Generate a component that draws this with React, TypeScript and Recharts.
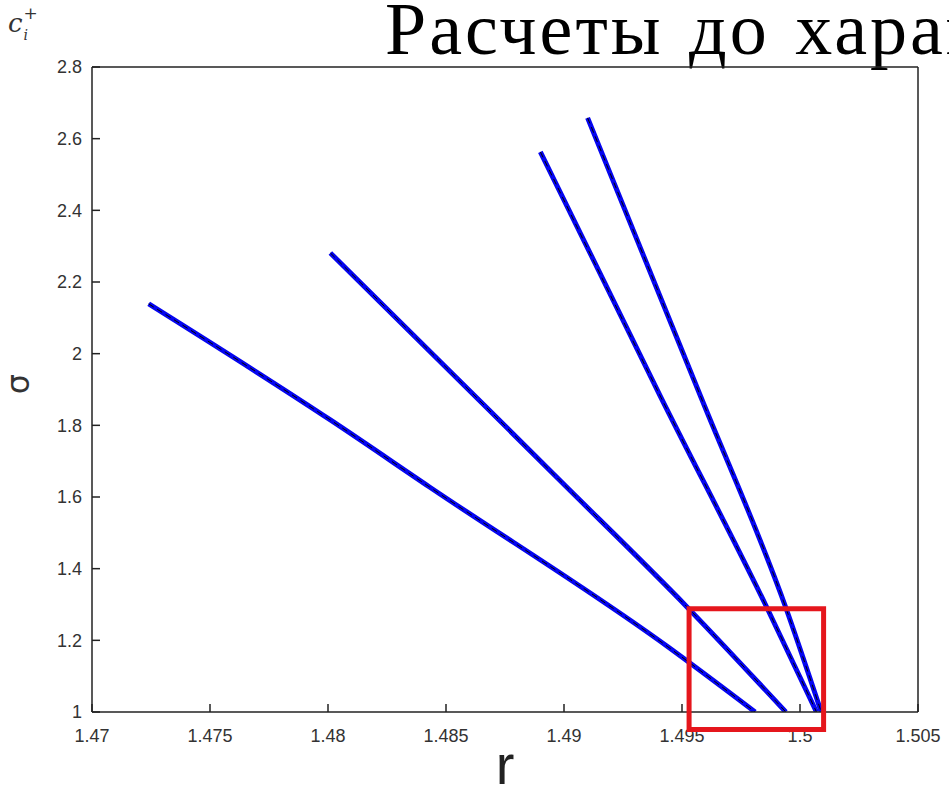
import { LineChart, Line, XAxis, YAxis, ReferenceArea, Label } from 'recharts';

// axis ticks
const X_TICKS = [1.47, 1.475, 1.48, 1.485, 1.49, 1.495, 1.5, 1.505];
const Y_TICKS = [1, 1.2, 1.4, 1.6, 1.8, 2, 2.2, 2.4, 2.6, 2.8];

// curves (r, sigma)
const R1 = [1.4724, 1.4801, 1.4843, 1.4944, 1.4981];
const S1 = [2.139, 1.815, 1.628, 1.182, 1.0];

const R2 = [1.4801, 1.4863, 1.4898, 1.4952, 1.4994];
const S2 = [2.281, 1.877, 1.648, 1.294, 1.0];

const R3 = [1.489, 1.4941, 1.4986, 1.5007];
const S3 = [2.563, 1.879, 1.291, 1.0];

const R4 = [1.491, 1.4958, 1.4994, 1.5009];
const S4 = [2.658, 1.879, 1.291, 1.0];

// red highlight box
const BOX_R = [1.4953, 1.501];
const BOX_S = [0.951, 1.288];

const series = [
  [R1, S1],
  [R2, S2],
  [R3, S3],
  [R4, S4],
].map(([r, s]) => r.map((v, i) => ({ r: v, s: s[i] })));

const fmt = (v: number, d: number) => String(Number(v.toFixed(d)));

const TICK_LEN = 8;
const X_GAP = 17;
const Y_GAP = 10;
const AXIS = '#222';
const labelFont = { fontFamily: '"Liberation Sans", Arial, sans-serif', fontSize: 18, fill: '#333' };

// matlab style ticks point into the plot, so draw them by hand
const BottomTick = ({ x, y, payload }: any) => (
  <g>
    <line x1={x} x2={x} y1={y - X_GAP} y2={y - X_GAP - TICK_LEN} stroke={AXIS} strokeWidth={1.5} />
    <text x={x} y={y} dy="0.71em" textAnchor="middle" {...labelFont}>
      {fmt(payload.value, 3)}
    </text>
  </g>
);

const LeftTick = ({ x, y, payload }: any) => (
  <g>
    <line x1={x + Y_GAP} x2={x + Y_GAP + TICK_LEN} y1={y} y2={y} stroke={AXIS} strokeWidth={1.5} />
    <text x={x} y={y} dy="0.355em" textAnchor="end" {...labelFont}>
      {fmt(payload.value, 1)}
    </text>
  </g>
);

const TopTick = ({ x, y }: any) => (
  <line x1={x} x2={x} y1={y} y2={y + TICK_LEN} stroke={AXIS} strokeWidth={1.5} />
);

const RightTick = ({ x, y }: any) => (
  <line x1={x} x2={x - TICK_LEN} y1={y} y2={y} stroke={AXIS} strokeWidth={1.5} />
);

export default function App() {
  return (
    <div style={{ position: 'absolute', left: 0, top: 0, width: 949, height: 792, overflow: 'hidden', background: '#fff' }}>
      <div
        style={{
          position: 'absolute',
          left: 385,
          top: -13,
          fontFamily: '"Liberation Serif", "Times New Roman", serif',
          fontSize: 74,
          letterSpacing: 3,
          wordSpacing: 4,
          whiteSpace: 'nowrap',
          color: '#000',
        }}
      >
        Расчеты до характеристик
      </div>
      <div
        style={{
          position: 'absolute',
          left: 8,
          top: 8,
          fontFamily: '"DejaVu Serif", serif',
          fontSize: 26,
          lineHeight: '30px',
          color: '#333',
          whiteSpace: 'nowrap',
        }}
      >
        <i>c</i>
        <span style={{ position: 'relative' }}>
          <i style={{ position: 'absolute', left: 1, top: 12, fontSize: 14 }}>i</i>
          <span style={{ position: 'absolute', left: 1, top: -10, fontSize: 17 }}>+</span>
        </span>
      </div>
      <div
        style={{
          position: 'absolute',
          left: 2,
          top: 366,
          width: 32,
          height: 36,
          lineHeight: '36px',
          textAlign: 'center',
          transform: 'rotate(-90deg)',
          fontFamily: '"DejaVu Sans", sans-serif',
          fontSize: 32,
          color: '#333',
        }}
      >
        σ
      </div>
      <LineChart width={949} height={792} margin={{ top: 66, right: 30, bottom: 50, left: 0 }}>
        <XAxis
          type="number"
          dataKey="r"
          domain={[1.47, 1.505]}
          ticks={X_TICKS}
          allowDataOverflow
          height={30}
          tickLine={false}
          tickSize={0}
          tickMargin={X_GAP}
          tick={<BottomTick />}
          stroke={AXIS}
          strokeWidth={1.5}
        >
          <Label
            value="r"
            position="bottom"
            offset={2}
            style={{ fontFamily: '"Liberation Sans", Arial, sans-serif', fontSize: 56, fill: '#222' }}
          />
        </XAxis>
        <XAxis
          xAxisId="top"
          orientation="top"
          type="number"
          domain={[1.47, 1.505]}
          ticks={X_TICKS}
          height={1}
          tickLine={false}
          tickSize={0}
          tickMargin={0}
          tick={<TopTick />}
          stroke={AXIS}
          strokeWidth={1.5}
        />
        <YAxis
          type="number"
          domain={[1, 2.8]}
          ticks={Y_TICKS}
          allowDataOverflow
          width={92}
          tickLine={false}
          tickSize={0}
          tickMargin={Y_GAP}
          tick={<LeftTick />}
          stroke={AXIS}
          strokeWidth={1.5}
        />
        <YAxis
          yAxisId="right"
          orientation="right"
          type="number"
          domain={[1, 2.8]}
          ticks={Y_TICKS}
          width={1}
          tickLine={false}
          tickSize={0}
          tickMargin={0}
          tick={<RightTick />}
          stroke={AXIS}
          strokeWidth={1.5}
        />
        {series.map((d, i) => (
          <Line
            key={`b${i}`}
            data={d}
            dataKey="s"
            type="monotone"
            stroke="#0505f0"
            strokeWidth={5}
            dot={false}
            isAnimationActive={false}
          />
        ))}
        {series.map((d, i) => (
          <Line
            key={`k${i}`}
            data={d}
            dataKey="s"
            type="monotone"
            stroke="#000"
            strokeWidth={1}
            strokeDasharray="6 4"
            dot={false}
            isAnimationActive={false}
          />
        ))}
        <ReferenceArea
          x1={BOX_R[0]}
          x2={BOX_R[1]}
          y1={BOX_S[0]}
          y2={BOX_S[1]}
          ifOverflow="visible"
          fill="none"
          fillOpacity={0}
          stroke="#e5161c"
          strokeWidth={5}
          zIndex={2000}
        />
      </LineChart>
    </div>
  );
}
